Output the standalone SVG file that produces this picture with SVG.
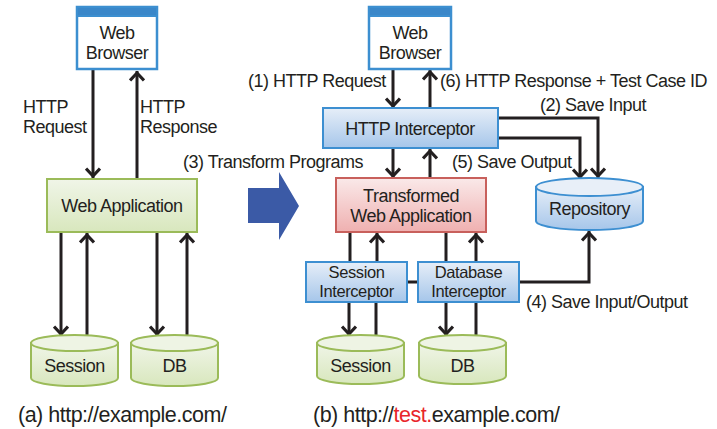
<svg xmlns="http://www.w3.org/2000/svg" width="717" height="429" viewBox="0 0 717 429">
<defs>
<linearGradient id="gG" x1="0" y1="0" x2="0" y2="1"><stop offset="0" stop-color="#f0f5e8"/><stop offset="1" stop-color="#d8e7bd"/></linearGradient>
<linearGradient id="gB" x1="0" y1="0" x2="0" y2="1"><stop offset="0" stop-color="#e6eef8"/><stop offset="1" stop-color="#a6c6ea"/></linearGradient>
<linearGradient id="gR" x1="0" y1="0" x2="0" y2="1"><stop offset="0" stop-color="#fae9e9"/><stop offset="1" stop-color="#efb0b0"/></linearGradient>
<marker id="ah" viewBox="-12 -8 14 16" markerWidth="14" markerHeight="16" refX="0" refY="0" orient="auto" markerUnits="userSpaceOnUse">
<path d="M-9.5,-7 L-2,0 L-9.5,7" fill="none" stroke="#231f20" stroke-width="3.2"/>
</marker>
<style>
text{font-family:"Liberation Sans",Arial,sans-serif;font-size:18px;letter-spacing:-0.5px;fill:#231f20}
.c{text-anchor:middle}
.sm{font-size:16.5px;letter-spacing:-0.4px}
.cap{font-size:21.5px}
.ln{fill:none;stroke:#231f20;stroke-width:3}
.ar{marker-end:url(#ah)}
.brw{fill:#fff;stroke:#3c8fd0;stroke-width:2.5}
.band{fill:#3a87c9;stroke:#3c8fd0;stroke-width:2}
.grn{fill:url(#gG);stroke:#9bbb59;stroke-width:2}
.blu{fill:url(#gB);stroke:#3d8fd1;stroke-width:2}
.red{fill:url(#gR);stroke:#c8605c;stroke-width:2}
.gtop{fill:#eef4e4;stroke:#9bbb59;stroke-width:2}
.btop{fill:#e8eff8;stroke:#3d8fd1;stroke-width:2}
</style>
</defs>
<rect width="717" height="429" fill="#fff"/>

<g id="connectors">
<path class="ln ar" d="M93,70 V178"/>
<path class="ln ar" d="M137,180 V71"/>
<path class="ln ar" d="M61,232 V336"/>
<path class="ln ar" d="M87,336 V233"/>
<path class="ln ar" d="M157,232 V336"/>
<path class="ln ar" d="M187,336 V233"/>
<path class="ln ar" d="M393,69 V108"/>
<path class="ln ar" d="M430,108 V70"/>
<path class="ln ar" d="M393,148 V178"/>
<path class="ln ar" d="M430,178 V149"/>
<path class="ln ar" d="M498,118 H598 V178"/>
<path class="ln ar" d="M498,138 H580 V179"/>
<path class="ln ar" d="M407,282 H589 V231"/>
<path class="ln" d="M350,232 V262"/>
<path class="ln ar" d="M377,262 V233"/>
<path class="ln" d="M446,232 V262"/>
<path class="ln ar" d="M476,262 V233"/>
<path class="ln ar" d="M349,302 V336"/>
<path class="ln" d="M376,302 V336"/>
<path class="ln ar" d="M446,302 V336"/>
<path class="ln" d="M476,302 V336"/>
</g>

<g id="labels">
<text x="23" y="113">HTTP</text>
<text x="23" y="133">Request</text>
<text x="140" y="113">HTTP</text>
<text x="140" y="133">Response</text>
<text x="248" y="87">(1) HTTP Request</text>
<text x="440" y="87">(6) HTTP Response + Test Case ID</text>
<text x="540" y="111">(2) Save Input</text>
<text x="183" y="168">(3) Transform Programs</text>
<text x="452" y="168">(5) Save Output</text>
<text x="526" y="308">(4) Save Input/Output</text>
<text class="cap" x="18" y="422">(a) http://example.com/</text>
<text class="cap" x="313" y="422">(b) http://<tspan fill="#e8262b">test.</tspan>example.com/</text>
</g>

<g id="transform-arrow">
<polygon points="248,188 279,188 279,172 299,206 279,240 279,223 248,223" fill="#3b5aa6"/>
</g>

<g id="browserA">
<rect class="brw" x="77" y="7" width="80" height="62"/>
<rect class="band" x="77" y="7" width="80" height="9"/>
<text class="c" x="117" y="39">Web</text>
<text class="c" x="117" y="59">Browser</text>
</g>

<g id="webappA">
<rect class="grn" x="47" y="179" width="150" height="53"/>
<text class="c" x="122" y="212">Web Application</text>
</g>

<g id="sessionA">
<path class="grn" d="M31,343 V378 A43.5,8 0 0 0 118,378 V343 Z"/>
<ellipse class="gtop" cx="74.5" cy="343" rx="43.5" ry="8"/>
<text class="c" x="74.5" y="372">Session</text>
</g>

<g id="dbA">
<path class="grn" d="M131,343 V378 A43.5,8 0 0 0 218,378 V343 Z"/>
<ellipse class="gtop" cx="174.5" cy="343" rx="43.5" ry="8"/>
<text class="c" x="174.5" y="372">DB</text>
</g>

<g id="browserB">
<rect class="brw" x="369" y="7" width="82" height="62"/>
<rect class="band" x="369" y="7" width="82" height="9"/>
<text class="c" x="410" y="39">Web</text>
<text class="c" x="410" y="59">Browser</text>
</g>

<g id="httpInterceptor">
<rect class="blu" x="323" y="108" width="175" height="40"/>
<text class="c" x="410" y="135">HTTP Interceptor</text>
</g>

<g id="transformedApp">
<rect class="red" x="336" y="178" width="150" height="54"/>
<text class="c" x="411" y="202">Transformed</text>
<text class="c" x="411" y="222">Web Application</text>
</g>

<g id="repository">
<path class="blu" d="M536,187 V221 A53.5,9 0 0 0 643,221 V187 Z"/>
<ellipse class="btop" cx="589.5" cy="187" rx="53.5" ry="9"/>
<text class="c" x="589.5" y="215">Repository</text>
</g>

<g id="sessionInterceptor">
<rect class="blu" x="306" y="262" width="101" height="40"/>
<text class="c sm" x="356.5" y="278">Session</text>
<text class="c sm" x="356.5" y="297">Interceptor</text>
</g>

<g id="dbInterceptor">
<rect class="blu" x="418" y="262" width="101" height="40"/>
<text class="c sm" x="468.5" y="278">Database</text>
<text class="c sm" x="468.5" y="297">Interceptor</text>
</g>

<g id="sessionB">
<path class="grn" d="M317,343 V376 A43.5,8 0 0 0 404,376 V343 Z"/>
<ellipse class="gtop" cx="360.5" cy="343" rx="43.5" ry="8"/>
<text class="c" x="360.5" y="372">Session</text>
</g>

<g id="dbB">
<path class="grn" d="M419,343 V376 A43.5,8 0 0 0 506,376 V343 Z"/>
<ellipse class="gtop" cx="462.5" cy="343" rx="43.5" ry="8"/>
<text class="c" x="462.5" y="372">DB</text>
</g>
</svg>
